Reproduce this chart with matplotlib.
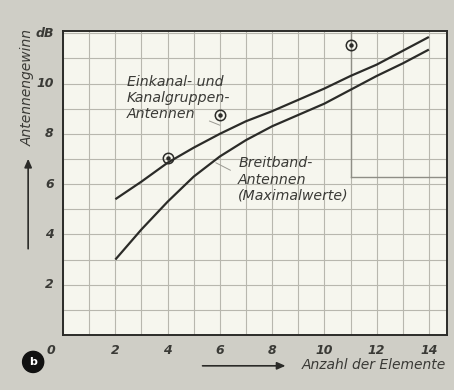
import matplotlib
matplotlib.use("Agg")
import matplotlib.pyplot as plt
from matplotlib.patches import FancyArrowPatch

# Data
elements = [2, 3, 4, 5, 6, 7, 8, 9, 10, 11, 12, 13, 14]
gain_einkanal = [5.4, 6.1, 6.85, 7.45, 8.0, 8.5, 8.9, 9.35, 9.8, 10.3, 10.75, 11.3, 11.85]
gain_breitband = [3.0, 4.2, 5.3, 6.3, 7.1, 7.75, 8.3, 8.75, 9.2, 9.75, 10.3, 10.8, 11.35]
meas_x = [4, 6, 11]
meas_y = [7.05, 8.75, 11.55]
xticks = [2, 4, 6, 8, 10, 12, 14]
xticklabels = ["2", "4", "6", "8", "10", "12", "14"]
yticks = [2, 4, 6, 8, 10, 12]
yticklabels = ["2", "4", "6", "8", "10", "dB"]

BG = "#cfcec6"
PANEL = "#f6f6ee"
INK = "#2b2b28"
GRID = "#b8b7ae"

fig = plt.figure(figsize=(4.54, 3.90), dpi=100, facecolor=BG)
ax = fig.add_axes([0.139, 0.141, 0.846, 0.779])
ax.set_facecolor(PANEL)
ax.set_xlim(0, 14.7)
ax.set_ylim(0, 12.08)

ax.set_xticks(range(0, 15))
ax.set_yticks(range(0, 13))
ax.grid(True, color=GRID, lw=0.8)
ax.set_axisbelow(True)
ax.tick_params(length=0, labelbottom=False, labelleft=False)
for s in ax.spines.values():
    s.set_color(INK)
    s.set_linewidth(1.4)

tfont = dict(fontstyle="italic", fontweight="bold", color="#3a3a36", fontsize=9)
for xv, lab in zip(xticks, xticklabels):
    ax.text(xv, -0.35, lab, ha="center", va="top", **tfont)
ax.text(-0.3, -0.35, "0", ha="right", va="top", **tfont)
for yv, lab in zip(yticks, yticklabels):
    ax.text(-0.35, yv, lab, ha="right", va="center", **tfont)

# upper-right box
ax.axvline(11, ymin=6.3 / 12.08, ymax=1, color="#8f8e86", lw=1.0)
ax.axhline(6.3, xmin=11 / 14.7, xmax=1, color="#8f8e86", lw=1.0)

ax.plot(elements, gain_einkanal, color=INK, lw=1.6, solid_capstyle="butt")
ax.plot(elements, gain_breitband, color=INK, lw=1.6, solid_capstyle="butt")
ax.plot(meas_x, meas_y, ls="none", marker="o", ms=7.5, mfc="none", mec=INK, mew=1.1)
ax.plot(meas_x, meas_y, ls="none", marker="o", ms=2.2, mfc=INK, mec=INK)

afont = dict(fontstyle="italic", color="#3a3a36", fontsize=10.2, linespacing=1.2)
ax.text(2.45, 10.35, "Einkanal- und\nKanalgruppen-\nAntennen", ha="left", va="top", **afont)
ax.text(6.7, 7.1, "Breitband-\nAntennen\n(Maximalwerte)", ha="left", va="top", **afont)
ax.annotate("", xy=(6.1, 8.3), xytext=(5.5, 8.55),
            arrowprops=dict(arrowstyle="-", color="#9a9992", lw=0.7))
ax.annotate("", xy=(5.75, 6.9), xytext=(6.5, 6.5),
            arrowprops=dict(arrowstyle="-", color="#9a9992", lw=0.7))

# axis titles with arrows
fig.text(0.062, 0.775, "Antennengewinn", rotation=90, ha="center", va="center",
         fontstyle="italic", color="#3a3a36", fontsize=10)
fig.add_artist(FancyArrowPatch((0.062, 0.355), (0.062, 0.60), transform=fig.transFigure,
                               arrowstyle="-|>,head_length=5,head_width=2.2", color=INK, lw=1.2))
fig.text(0.982, 0.064, "Anzahl der Elemente", ha="right", va="center",
         fontstyle="italic", color="#3a3a36", fontsize=10)
fig.add_artist(FancyArrowPatch((0.44, 0.062), (0.635, 0.062), transform=fig.transFigure,
                               arrowstyle="-|>,head_length=5,head_width=2.2", color=INK, lw=1.2))

fig.text(0.073, 0.072, "b", ha="center", va="center", color="white", fontsize=8, fontweight="bold",
         bbox=dict(boxstyle="circle,pad=0.5", fc="#111111", ec="#111111"))

fig.savefig("out.png", dpi=100, facecolor=BG)
